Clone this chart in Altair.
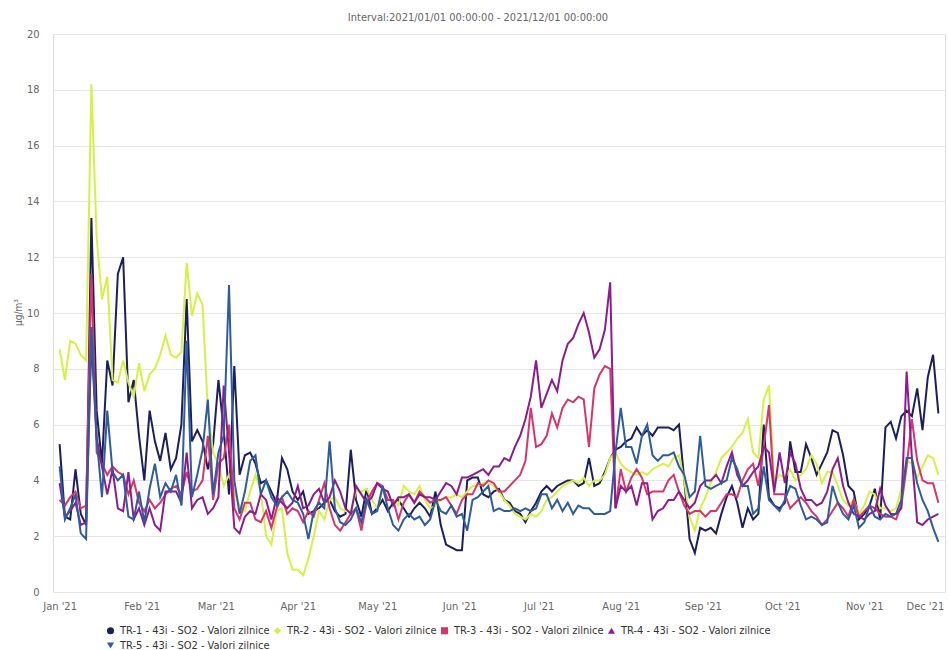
import altair as alt
import pandas as pd

# Daily SO2 concentration (µg/m³), sampled every 2 days from 2021-01-01
start_date = "2021-01-01"

tr1 = [5.3, 2.7, 2.6, 4.4, 2.8, 2.4, 13.4, 6.5, 4.6, 8.3, 7.4, 11.4, 12.0, 6.8, 7.6, 5.6,
       4.0, 6.5, 5.4, 4.7, 5.7, 4.4, 4.8, 6.0, 10.5, 5.4, 5.8, 5.4, 4.4, 5.3, 7.6, 5.8, 3.5, 8.1, 4.2, 4.9,
       5.0, 4.6, 3.9, 4.0, 3.6, 3.2, 4.8, 4.4, 3.6, 3.3, 3.6, 2.8, 2.9, 3.0, 3.2, 3.3, 2.9, 2.7, 2.8, 5.1,
       3.3, 2.7, 3.7, 2.8, 3.0, 3.3, 2.9, 3.2, 3.3, 3.0, 2.7, 3.0, 3.2, 3.0, 2.7, 3.6, 2.4, 1.7,
       1.6, 1.5, 1.5, 4.0, 4.1, 4.1, 3.5, 3.4, 3.6, 3.7, 3.3, 3.2, 2.9, 2.8, 2.5, 2.9, 3.2, 3.6, 3.8,
       3.6, 3.8, 3.9, 4.0, 4.0, 3.8, 3.9, 4.8, 3.8, 3.9, 4.3, 4.8, 5.1, 5.2, 5.4, 5.5, 5.9, 5.6, 5.8,
       5.6, 5.9, 5.9, 5.9, 5.8, 6.0, 4.0, 1.9, 1.4, 2.3, 2.2, 2.3, 2.1, 2.8, 3.4, 3.8, 3.2, 2.3, 3.0,
       2.6, 2.8, 6.0, 3.4, 3.1, 3.0, 3.2, 5.4, 4.3, 4.3, 5.3, 4.8, 4.2, 4.6, 5.0, 5.8, 5.7, 4.9, 3.8,
       3.6, 2.6, 2.8, 3.1, 3.7, 2.6, 5.9, 6.1, 5.5, 6.3, 6.5, 6.3, 7.3, 5.8, 7.7, 8.5, 6.4]

tr2 = [8.7, 7.6, 9.0, 8.9, 8.5, 8.3, 18.2, 12.7, 10.5, 11.3, 7.6, 7.5, 8.3, 7.5, 7.0, 8.2,
       7.2, 7.8, 8.0, 8.5, 9.2, 8.5, 8.4, 8.6, 11.8, 9.9, 10.7, 10.3, 6.5, 5.0, 4.6, 3.8, 4.2, 3.6, 3.1, 2.9,
       3.6, 4.2, 3.6, 2.0, 1.7, 2.9, 3.0, 1.4, 0.8, 0.8, 0.6, 1.2, 2.0, 2.9, 2.6, 3.3, 3.4, 3.0, 2.9, 2.9,
       3.6, 3.6, 3.7, 3.3, 3.0, 3.6, 3.3, 3.3, 3.1, 3.8, 3.6, 3.5, 3.8, 3.3, 3.0, 3.1, 3.3, 3.4,
       3.4, 3.5, 3.4, 3.6, 3.8, 3.8, 3.9, 3.9, 3.8, 3.6, 3.3, 3.1, 2.8, 2.7, 2.6, 2.8, 2.7, 2.9, 3.3,
       3.4, 3.6, 3.8, 3.9, 4.0, 3.9, 4.1, 3.8, 4.0, 4.0, 4.2, 4.8, 5.0, 4.6, 4.4, 4.3, 4.2, 4.3, 4.2,
       4.4, 4.5, 4.6, 4.5, 4.8, 4.9, 4.0, 2.7, 2.2, 3.0, 3.4, 3.9, 4.3, 4.8, 5.0, 5.2, 5.5, 5.7, 6.2,
       5.0, 4.8, 6.9, 7.4, 3.9, 4.2, 4.1, 4.4, 4.0, 4.2, 4.4, 4.9, 4.6, 3.9, 4.3, 4.3, 3.8, 3.3, 3.1,
       3.3, 2.8, 3.1, 3.6, 3.5, 3.0, 3.0, 2.9, 3.0, 3.7, 4.7, 4.6, 4.1, 4.5, 4.9, 4.8, 4.2]

tr3 = [3.3, 3.1, 3.4, 3.6, 3.0, 3.1, 11.4, 5.0, 4.6, 4.2, 4.5, 4.3, 4.2, 3.5, 4.0, 3.2,
       2.9, 3.3, 3.0, 3.2, 3.5, 3.7, 3.8, 3.5, 4.3, 3.6, 3.7, 4.0, 5.6, 3.3, 4.6, 4.8, 6.0, 3.0, 2.6, 3.2,
       3.2, 2.6, 2.5, 2.9, 2.3, 3.0, 3.4, 2.8, 3.0, 2.9, 2.5, 2.9, 2.7, 3.3, 3.9, 3.0, 2.4, 2.2, 2.5, 2.8,
       3.0, 2.2, 3.2, 3.6, 3.9, 3.8, 3.3, 3.3, 2.6, 3.2, 3.5, 3.2, 3.6, 3.4, 3.2, 3.3, 3.3, 3.4,
       3.1, 2.8, 3.3, 3.5, 3.5, 3.9, 3.8, 4.0, 3.9, 3.6, 3.6, 3.8, 4.0, 4.2, 4.7, 6.6, 5.2, 5.3, 5.6,
       6.4, 5.9, 6.6, 6.9, 6.8, 7.0, 6.9, 5.2, 7.3, 7.8, 8.1, 8.0, 3.0, 4.4, 3.6, 4.1, 4.4, 4.1, 3.5,
       3.6, 3.6, 3.6, 4.0, 4.2, 3.6, 3.1, 2.8, 2.9, 2.9, 2.7, 2.9, 2.9, 3.2, 3.5, 3.5, 3.4, 4.0, 4.4,
       4.6, 3.8, 5.2, 6.7, 3.5, 3.5, 3.5, 3.0, 3.2, 3.4, 3.2, 2.9, 2.7, 2.4, 2.6, 2.9, 3.2, 3.0, 2.7,
       3.3, 2.7, 2.9, 3.1, 3.0, 2.8, 2.7, 2.7, 2.6, 3.1, 4.5, 6.2, 4.7, 4.0, 3.9, 3.9, 3.2]

tr4 = [3.9, 2.7, 2.9, 3.2, 2.4, 2.5, 9.0, 5.5, 4.5, 3.5, 4.4, 3.0, 2.9, 4.3, 2.6, 3.0,
       2.4, 3.0, 2.4, 2.2, 3.6, 3.6, 3.6, 3.2, 5.0, 3.0, 3.3, 3.4, 2.8, 3.0, 3.4, 7.4, 5.0, 2.3, 2.1, 2.7,
       2.9, 2.8, 3.5, 3.3, 2.6, 3.4, 3.2, 3.0, 3.2, 3.8, 3.0, 3.1, 3.5, 3.7, 3.2, 3.4, 4.0, 3.6, 3.0, 2.8,
       3.8, 3.5, 3.2, 3.4, 3.9, 3.7, 3.6, 3.1, 3.4, 3.4, 3.5, 3.2, 3.5, 3.4, 3.4, 3.3, 3.6, 3.9,
       3.8, 3.5, 4.1, 4.1, 4.2, 4.3, 4.4, 4.2, 4.5, 4.5, 4.8, 4.7, 5.2, 5.6, 6.2, 7.0, 8.3, 6.6, 7.1,
       7.6, 7.2, 8.3, 8.9, 9.1, 9.6, 10.0, 9.3, 8.4, 8.7, 9.4, 11.1, 3.0, 3.8, 3.6, 3.8, 3.1, 3.9, 3.9,
       2.6, 2.9, 3.0, 3.3, 3.3, 3.6, 3.3, 3.0, 3.2, 3.8, 4.0, 4.0, 4.2, 3.9, 4.5, 5.0, 4.2, 3.8, 4.0,
       4.3, 4.5, 5.2, 5.0, 3.6, 5.0, 3.9, 5.0, 4.6, 3.7, 3.3, 3.3, 3.1, 3.2, 3.6, 4.4, 4.8, 3.8, 3.2,
       2.8, 2.7, 2.6, 2.8, 2.9, 3.7, 3.1, 2.8, 2.8, 3.0, 7.9, 4.8, 2.5, 2.4, 2.6, 2.7, 2.8]

tr5 = [4.5, 2.6, 3.0, 3.5, 2.1, 1.9, 9.5, 5.5, 3.4, 6.5, 4.3, 4.0, 4.2, 2.7, 2.6, 3.6,
       2.5, 3.7, 4.6, 3.4, 3.9, 3.6, 4.2, 3.1, 9.0, 3.4, 4.2, 5.1, 6.9, 3.5, 5.0, 5.6, 11.0, 4.0, 2.8, 3.6,
       4.7, 4.9, 3.5, 4.0, 3.4, 3.1, 3.4, 3.6, 3.3, 3.2, 2.8, 1.9, 2.9, 3.2, 3.0, 5.4, 3.0, 2.5, 2.4, 2.6,
       3.0, 2.5, 3.3, 2.8, 2.9, 3.8, 3.0, 2.4, 2.2, 2.6, 2.8, 2.6, 2.7, 2.4, 2.6, 3.3, 2.9, 2.8,
       3.1, 2.7, 2.8, 2.2, 3.3, 3.4, 3.6, 3.8, 2.9, 3.0, 2.9, 2.9, 3.0, 2.9, 3.0, 2.9, 3.0, 3.5, 3.5,
       3.0, 3.3, 2.9, 3.2, 2.8, 3.1, 3.0, 3.0, 2.8, 2.8, 2.8, 2.9, 5.0, 6.6, 5.2, 5.2, 4.6, 5.6, 6.0,
       4.9, 4.7, 4.9, 4.9, 5.0, 4.5, 4.2, 3.4, 3.6, 5.6, 3.8, 3.7, 3.8, 3.9, 4.0, 4.8, 4.4, 3.8, 3.8,
       2.8, 3.0, 4.5, 3.3, 3.1, 2.9, 3.3, 3.8, 3.7, 3.1, 2.6, 2.7, 2.6, 2.4, 2.5, 3.8, 3.2, 2.8, 2.6,
       3.1, 2.3, 2.5, 3.1, 2.7, 2.6, 2.8, 2.7, 2.8, 3.3, 4.8, 4.8, 3.9, 3.3, 2.9, 2.3, 1.8]

series_names = [
    "TR-1 - 43i - SO2 - Valori zilnice",
    "TR-2 - 43i - SO2 - Valori zilnice",
    "TR-3 - 43i - SO2 - Valori zilnice",
    "TR-4 - 43i - SO2 - Valori zilnice",
    "TR-5 - 43i - SO2 - Valori zilnice",
]
series_colors = ["#1c1f5c", "#d6f046", "#d7356d", "#8b1d8d", "#2f5c9e"]
series_shapes = ["circle", "diamond", "square", "triangle-up", "triangle-down"]
y_ticks = [0, 2, 4, 6, 8, 10, 12, 14, 16, 18, 20]

dates = pd.date_range(start_date, periods=len(tr1), freq="2D")
rows = []
for name, vals in zip(series_names, [tr1, tr2, tr3, tr4, tr5]):
    for dt, v in zip(dates, vals):
        rows.append({"date": dt, "series": name, "value": v})
df = pd.DataFrame(rows)

FONT = "Liberation Sans Narrow, DejaVu Sans Condensed, Arial Narrow, Liberation Sans, sans-serif"

month_ticks = [alt.DateTime(year=2021, month=m, date=1) for m in range(1, 13)]

legend = alt.Legend(
    title=None, orient="none", legendX=52, legendY=591, direction="horizontal",
    columns=4, columnPadding=2, rowPadding=3, symbolSize=50, symbolOpacity=1,
    labelFontSize=11, labelColor="#333333", labelFont=FONT, symbolStrokeWidth=0,
    labelLimit=300,
)

base = alt.Chart(df).encode(
    x=alt.X(
        "date:T",
        scale=alt.Scale(domain=[alt.DateTime(year=2020, month=12, date=29, hours=12),
                                alt.DateTime(year=2021, month=12, date=1, hours=12)]),
        axis=alt.Axis(values=month_ticks, format="%b '%y", title=None, grid=False,
                      ticks=False, domain=True, domainColor="#e6e6e6", labelFlush=3,
                      labelColor="#666666", labelFontSize=11, labelFont=FONT, labelPadding=8),
    ),
    y=alt.Y(
        "value:Q",
        scale=alt.Scale(domain=[0, 20], nice=False),
        axis=alt.Axis(values=y_ticks, title="µg/m³", grid=True, gridColor="#e6e6e6",
                      domain=False, ticks=False, labelColor="#666666", labelFontSize=11,
                      labelFont=FONT, labelPadding=14, titleFont=FONT, titleFontSize=10,
                      titleColor="#666666", titleFontWeight="normal", titleX=-30, titleY=278),
    ),
    color=alt.Color("series:N", scale=alt.Scale(domain=series_names, range=series_colors),
                    legend=legend),
)

lines = base.mark_line(strokeWidth=2, interpolate="linear")
points = base.mark_point(filled=True, opacity=0).encode(
    shape=alt.Shape("series:N", scale=alt.Scale(domain=series_names, range=series_shapes),
                    legend=legend)
)

chart = alt.layer(lines, points).properties(
    width=892, height=558,
    title=alt.TitleParams(
        "Interval:2021/01/01 00:00:00 - 2021/12/01 00:00:00",
        fontSize=11, font=FONT, color="#666666", fontWeight="normal",
        anchor="middle", dx=-21, offset=5,
    ),
    autosize=alt.AutoSizeParams(type="none"),
    padding={"left": 53, "top": 34, "right": 4, "bottom": 58},
).configure_view(stroke=None).configure(background="white")

chart.save("out.html", embed_options={"renderer": "svg", "actions": False})
